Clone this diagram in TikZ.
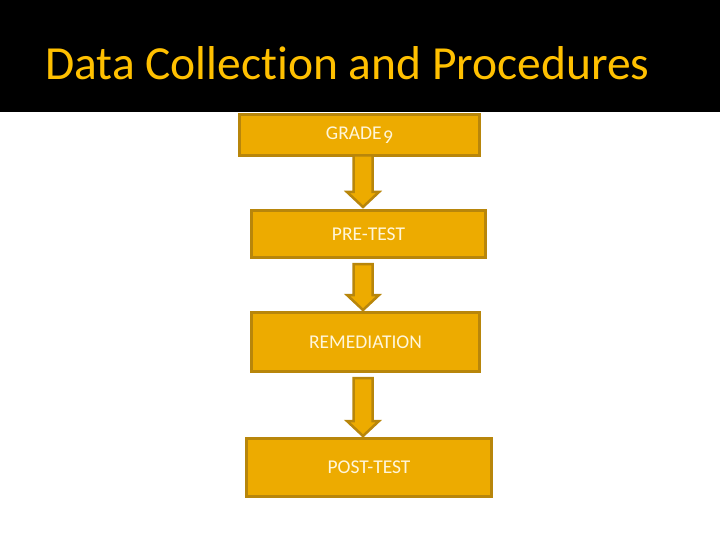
\documentclass[tikz,border=0pt]{standalone}
\usepackage{fontspec}
\setmainfont[Ligatures=NoCommon]{Carlito}
\usetikzlibrary{calc}
\definecolor{boxfill}{HTML}{EDAB00}
\definecolor{boxline}{HTML}{B8860B}
\definecolor{titlegold}{HTML}{FFC000}
\definecolor{boxtext}{HTML}{FFF6DA}
\tikzset{
  stepbox/.style={draw=boxline, fill=boxfill, line width=3pt, inner sep=0pt,
    text=boxtext, font=\fontsize{19.5}{22}\selectfont},
  barrow/.style={draw=boxline, fill=boxfill, line width=2.5pt, line join=miter},
}
\newcommand\blockarrow[2]{%
  \draw[barrow] let \p1=(#1), \p2=(#2) in
    (\x1-9.5,\y1) -- (\x1-9.5,\y2+15) -- (\x1-16,\y2+15) -- (\x1,\y2)
    -- (\x1+16,\y2+15) -- (\x1+9.5,\y2+15) -- (\x1+9.5,\y1) -- cycle;}
\begin{document}
\begin{tikzpicture}[x=1pt,y=-1pt]
  \useasboundingbox (0,0) rectangle (720,540);
  \fill[black] (0,0) rectangle (720,112);
  \node[anchor=west, text=titlegold, font=\fontsize{47.5}{52}\selectfont, inner sep=0pt]
    (title) at (45,63) {Data Collection and Procedures};
  \node[stepbox, minimum width=240pt, minimum height=41pt] (g9) at (359.5,135)
    {GRADE\hspace{1.5pt}\raisebox{-3.5pt}{9}};
  \node[stepbox, minimum width=234pt, minimum height=47pt] (pre) at (368.5,234) {PRE-TEST};
  \node[stepbox, minimum width=228pt, minimum height=59pt] (rem) at (365.5,342) {REMEDIATION};
  \node[stepbox, minimum width=245pt, minimum height=58pt] (post) at (369,467.5) {POST-TEST};
  \coordinate (a1s) at (363,155.5);
  \coordinate (a1e) at (363,207);
  \coordinate (a2s) at (363,264);
  \coordinate (a2e) at (363,310);
  \coordinate (a3s) at (363,378);
  \coordinate (a3e) at (363,436);
  \blockarrow{a1s}{a1e}
  \blockarrow{a2s}{a2e}
  \blockarrow{a3s}{a3e}
\end{tikzpicture}
\end{document}
